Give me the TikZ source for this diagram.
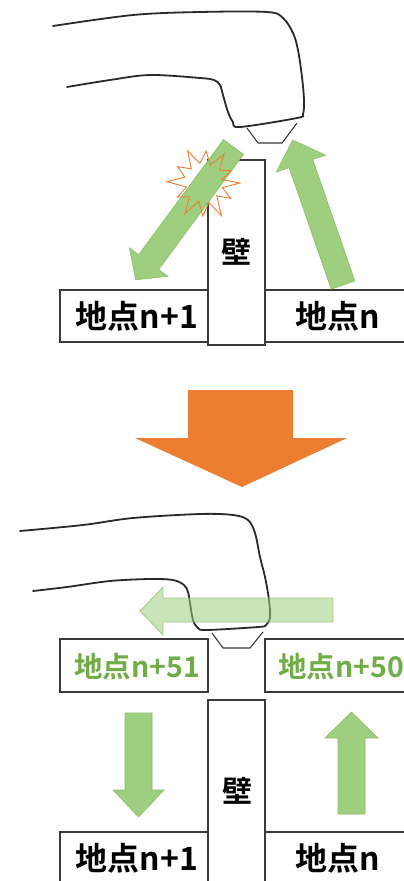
\documentclass[tikz,border=0pt]{standalone}
\usepackage{fontspec}
\newfontfamily\jp{Noto Sans CJK JP}[BoldFont=* Bold]
\definecolor{linegray}{HTML}{3A3A3A}
\definecolor{handgray}{HTML}{2A2A2A}
\definecolor{arrowgreen}{HTML}{9ECF80}
\definecolor{arrowedge}{HTML}{86BF62}
\definecolor{textgreen}{HTML}{70AD47}
\definecolor{bigorange}{HTML}{ED7D31}
\begin{document}
\begin{tikzpicture}[x=1pt,y=-1pt,
  boxline/.style={draw=linegray,line width=1.3pt,fill=white},
  handline/.style={draw=handgray,line width=1.8pt,line join=round,line cap=round},
  nozzle/.style={draw=linegray,line width=1.1pt,line join=round},
  greenarrow/.style={fill=arrowgreen,draw=arrowedge,line width=0.6pt},
  ghostarrow/.style={fill=arrowgreen,fill opacity=0.55,draw=arrowedge,draw opacity=0.7,line width=0.8pt},
  spot/.style={font=\jp\bfseries\fontsize{32}{32}\selectfont,inner sep=0pt},
  greenspot/.style={font=\jp\bfseries\fontsize{28.5}{28.5}\selectfont,inner sep=0pt,text=textgreen},
  walltext/.style={font=\jp\bfseries\fontsize{30}{30}\selectfont,inner sep=0pt}]
\useasboundingbox (0,0) rectangle (404,881);
\fill[white] (0,0) rectangle (404,881);

% ---------- upper scene: beam hits the wall ----------
% hand with the scanner
\draw[handline] plot[smooth,tension=0.55] coordinates {
  (53,26) (133,15) (200,12) (267,12) (283,18) (293,33) (298,50) (302,77)
  (304,100) (303,114) (297,118) (240,127) (233,122) (228,112) (223,95)
  (220,85) (214,80) (200,78) (150,75) (110,80) (67,87)};
\draw[nozzle] (247,128) -- (258,143) -- (282,143) -- (297,123);

% wall and floor spots
\draw[boxline] (208,160) rectangle (265,345);
\draw[boxline] (60,290) rectangle (208,342);
\draw[boxline] (265,290) rectangle (410,342);

% reflected beam going down-left
\draw[greenarrow] (243.5,154.4) -- (158.7,269.5) -- (168.0,276.3) -- (135.7,279.8)
  -- (129.4,247.9) -- (138.7,254.7) -- (223.5,139.6) -- cycle;
% beam going up
\draw[greenarrow] (354.8,280.9) -- (312.7,159.5) -- (325.5,155.1) -- (292.7,140)
  -- (276.3,172.1) -- (289.1,167.7) -- (331.2,289.1) -- cycle;

% collision flash
\draw[bigorange,line width=0.9pt,line join=miter,shift={(204,183)}]
  (0:36) -- (14:19) -- (30:31) -- (45:18) -- (62:37) -- (76:20) -- (92:33)
  -- (106:19) -- (122:36) -- (137:20) -- (152:30) -- (167:18) -- (182:37)
  -- (197:20) -- (212:31) -- (228:19) -- (243:36) -- (258:20) -- (274:32)
  -- (289:19) -- (305:35) -- (320:20) -- (336:30) -- (349:18) -- cycle;

\node[spot] (a1) at (137,316) {地点n+1};
\node[spot] (a0) at (338,316) {地点n};
\node[walltext] (aw) at (236,252) {壁};

% ---------- transition arrow ----------
\fill[bigorange] (188,390) -- (293,390) -- (293,438) -- (347,438) -- (242,487)
  -- (135,438) -- (188,438) -- cycle;

% ---------- lower scene: passing above the wall ----------
\draw[handline] plot[smooth,tension=0.55] coordinates {
  (20,531) (83,525) (133,518) (200,514) (233,515) (248,520) (255,533)
  (260,557) (265,577) (269,600) (270,617) (266,625) (258,627) (207,630)
  (198,628) (193,620) (190,603) (188,592) (184,585) (173,580) (150,579)
  (110,581) (67,587) (33,591)};
\draw[nozzle] (212,633) -- (223,648) -- (250,648) -- (263,632);

% movement of the scanner
\draw[ghostarrow] (333,598) -- (163,598) -- (163,587) -- (140,611) -- (163,635)
  -- (163,622) -- (333,622) -- cycle;

\draw[boxline] (60,639) rectangle (208,692);
\draw[boxline] (265,639) rectangle (410,692);
\draw[boxline] (208,700) rectangle (265,890);
\draw[boxline] (60,832) rectangle (208,890);
\draw[boxline] (265,832) rectangle (410,890);

\draw[greenarrow] (125,713) -- (152,713) -- (152,790) -- (164,790) -- (138.5,817)
  -- (113,790) -- (125,790) -- cycle;
\draw[greenarrow] (338,814) -- (338,738) -- (325,738) -- (351.5,712) -- (378,738)
  -- (365,738) -- (365,814) -- cycle;

\node[greenspot] (b51) at (137,667) {地点n+51};
\node[greenspot,anchor=west] (b50) at (278,667) {地点n+50};
\node[walltext] (bw) at (237,791) {壁};
\node[spot] (c1) at (137,858) {地点n+1};
\node[spot] (c0) at (338,858) {地点n};
\end{tikzpicture}
\end{document}
